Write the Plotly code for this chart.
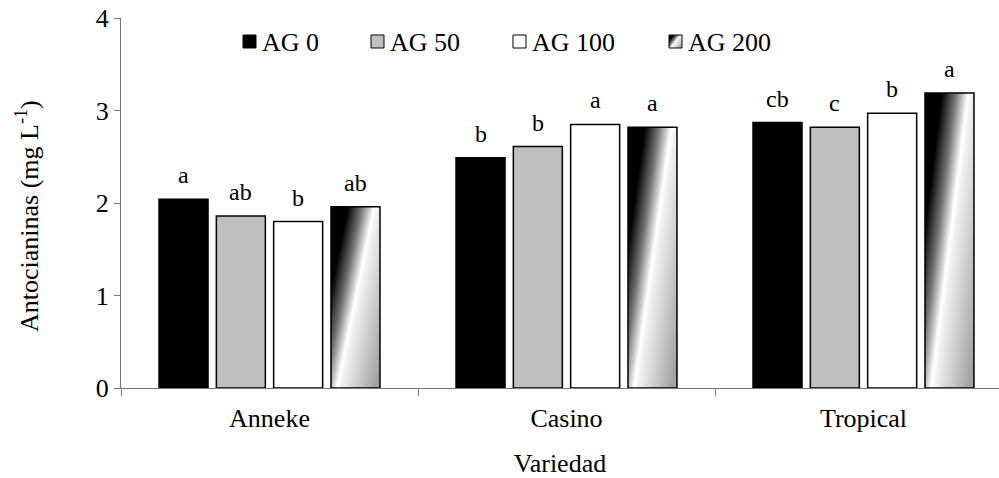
import base64
import plotly.graph_objects as go

# Anthocyanin content by variety and gibberellic acid (AG) dose
categories = ["Anneke", "Casino", "Tropical"]
treatments = ["AG 0", "AG 50", "AG 100", "AG 200"]
ag0 = [2.04, 2.49, 2.87]
ag50 = [1.86, 2.61, 2.82]
ag100 = [1.80, 2.85, 2.97]
ag200 = [1.96, 2.82, 3.19]
letters_ag0 = ["a", "b", "cb"]
letters_ag50 = ["ab", "b", "c"]
letters_ag100 = ["b", "a", "b"]
letters_ag200 = ["ab", "a", "a"]
y_ticks = [0, 1, 2, 3, 4]

series = [ag0, ag50, ag100, ag200]
letters = [letters_ag0, letters_ag50, letters_ag100, letters_ag200]
fills = ["#000000", "#bfbfbf", "#ffffff", "rgba(0,0,0,0)"]

FONT = "Liberation Serif, Times New Roman, serif"
FS = 26
AXIS_GREY = "#777777"

# figure geometry (pixels)
W, H = 999, 478
ML, MR, MT, MB = 121, 0, 18, 90
PW, PH = W - ML - MR, H - MT - MB
CAT_PX = 297.0                      # width of one category band
X_MIN = -0.5
X_MAX = X_MIN + PW / CAT_PX

BAR_W = 0.165
PITCH = 0.193
GROUP_LEFT = -(3 * PITCH + BAR_W) / 2

# diagonal black-white-grey fill used for the AG 200 series
svg = (
    "<svg xmlns='http://www.w3.org/2000/svg' width='100' height='100' "
    "viewBox='0 0 100 100' preserveAspectRatio='none'>"
    "<defs><linearGradient id='g' x1='0' y1='0.12' x2='1' y2='0.88'>"
    "<stop offset='0' stop-color='#000000'/>"
    "<stop offset='0.16' stop-color='#000000'/>"
    "<stop offset='0.34' stop-color='#747474'/>"
    "<stop offset='0.5' stop-color='#ffffff'/>"
    "<stop offset='0.56' stop-color='#f0f0f0'/>"
    "<stop offset='1' stop-color='#a2a2a2'/>"
    "</linearGradient></defs>"
    "<rect x='0' y='0' width='100' height='100' fill='url(#g)'/></svg>"
)
GRAD = "data:image/svg+xml;base64," + base64.b64encode(svg.encode()).decode()


def px2paper_x(px):
    return (px - ML) / PW


def px2paper_y(py):
    return (H - MB - py) / PH


fig = go.Figure()
images = []
annotations = []
for i, (name, vals, txt, col) in enumerate(zip(treatments, series, letters, fills)):
    off = GROUP_LEFT + i * PITCH
    fig.add_trace(go.Bar(
        name=name,
        x=categories,
        y=vals,
        width=BAR_W,
        offset=off,
        marker=dict(color=col, line=dict(color="#000000", width=1.5)),
        showlegend=False,
        hoverinfo="x+y+name",
    ))
    for k, (v, t) in enumerate(zip(vals, txt)):
        # significance letter above each bar
        annotations.append(dict(
            text=t, xref="x", yref="y", x=k + off + BAR_W / 2, y=v,
            xanchor="center", yanchor="bottom", yshift=9, showarrow=False,
            font=dict(family=FONT, size=FS - 2, color="#000000"),
        ))
        if i == 3:
            images.append(dict(
                source=GRAD, xref="x", yref="y",
                x=k + off, y=v, sizex=BAR_W, sizey=v,
                xanchor="left", yanchor="top",
                sizing="stretch", layer="below",
            ))

# legend drawn along the top of the plotting area
leg_swatch_px = [243, 371, 513, 669]
SW = 13
SW_TOP, SW_BOT = 35, 48

shapes = []
for i, name in enumerate(treatments):
    x0 = leg_swatch_px[i]
    if i == 3:
        images.append(dict(
            source=GRAD, xref="paper", yref="paper",
            x=px2paper_x(x0), y=px2paper_y(SW_TOP),
            sizex=SW / PW, sizey=SW / PH,
            xanchor="left", yanchor="top", sizing="stretch", layer="above",
        ))
    shapes.append(dict(
        type="rect", xref="paper", yref="paper",
        x0=px2paper_x(x0), x1=px2paper_x(x0 + SW),
        y0=px2paper_y(SW_BOT), y1=px2paper_y(SW_TOP),
        fillcolor=fills[i], line=dict(color="#000000", width=1),
        layer="above",
    ))
    annotations.append(dict(
        text=name, xref="paper", yref="paper",
        x=px2paper_x(x0 + SW + 4), y=px2paper_y(42),
        xanchor="left", yanchor="middle", showarrow=False,
        font=dict(family=FONT, size=FS, color="#000000"),
    ))

# vertical axis title
annotations.append(dict(
    text="Antocianinas (mg L<sup>-1</sup>)", xref="paper", yref="paper",
    x=px2paper_x(27), y=px2paper_y(216), textangle=-90,
    xanchor="center", yanchor="middle", showarrow=False,
    font=dict(family=FONT, size=FS, color="#000000"),
))

fig.update_layout(
    width=W, height=H,
    margin=dict(l=ML, r=MR, t=MT, b=MB, pad=0),
    paper_bgcolor="#ffffff", plot_bgcolor="#ffffff",
    barmode="overlay",
    font=dict(family=FONT, size=FS, color="#000000"),
    images=images, shapes=shapes, annotations=annotations,
    showlegend=False,
    xaxis=dict(
        type="category", categoryorder="array", categoryarray=categories,
        range=[X_MIN, X_MAX], tickson="boundaries",
        ticks="outside", ticklen=7, tickcolor=AXIS_GREY, tickwidth=1,
        showline=True, linecolor=AXIS_GREY, linewidth=1,
        showgrid=False, zeroline=False,
        tickfont=dict(family=FONT, size=FS, color="#000000"),
        ticklabelstandoff=7,
        title=dict(text="Variedad", standoff=23,
                   font=dict(family=FONT, size=FS, color="#000000")),
    ),
    yaxis=dict(
        range=[0, 4], tickvals=y_ticks,
        ticks="outside", ticklen=6, tickcolor=AXIS_GREY, tickwidth=1,
        showline=True, linecolor=AXIS_GREY, linewidth=1,
        showgrid=False, zeroline=False,
        tickfont=dict(family=FONT, size=FS, color="#000000"),
    ),
)

fig.write_html("out.html")
